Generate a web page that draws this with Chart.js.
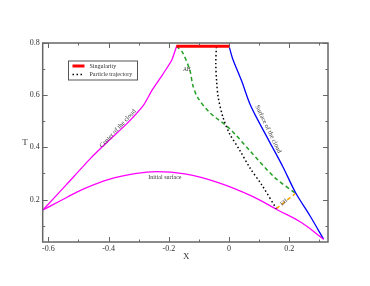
<!DOCTYPE html>
<html>
<head>
<meta charset="utf-8">
<script src="https://cdn.jsdelivr.net/npm/chart.js@4"></script>
<style>
  html, body { margin: 0; padding: 0; background: #fff; }
  #wrap { width: 370px; height: 286px; }
</style>
</head>
<body>
<div id="wrap"><canvas id="myChart" width="370" height="286"></canvas></div>
<script>
// curves (X, T)
const centerX = [-0.618, -0.54, -0.462, -0.40, -0.34, -0.285, -0.255, -0.22, -0.19, -0.174];
const centerT = [0.160, 0.257, 0.355, 0.425, 0.49, 0.56, 0.62, 0.68, 0.735, 0.788];

const initX = [-0.618, -0.539, -0.484, -0.396, -0.318, -0.241, -0.147, -0.036, 0.074, 0.163, 0.24, 0.314];
const initT = [0.160, 0.208, 0.240, 0.278, 0.298, 0.307, 0.298, 0.265, 0.214, 0.159, 0.112, 0.048];

const surfX = [0.0, 0.012, 0.041, 0.069, 0.091, 0.135, 0.179, 0.221, 0.27, 0.314];
const surfT = [0.788, 0.74, 0.657, 0.567, 0.515, 0.42, 0.325, 0.226, 0.135, 0.048];

const ahX = [-0.175, -0.155, -0.13, -0.12, -0.104, -0.064, 0.002, 0.069, 0.152, 0.221];
const ahT = [0.788, 0.765, 0.695, 0.637, 0.591, 0.533, 0.472, 0.387, 0.284, 0.224];

const trajX = [-0.042, -0.044, -0.041, -0.036, -0.02, 0.002, 0.035, 0.07, 0.107, 0.157];
const trajT = [0.785, 0.72, 0.65, 0.592, 0.515, 0.452, 0.39, 0.32, 0.259, 0.165];

const singX = [-0.175, 0.0];
const singT = [0.788, 0.788];

const ehX = [0.157, 0.221];
const ehT = [0.165, 0.224];

// axis ticks
const xMajor = [-0.6, -0.4, -0.2, 0, 0.2];
const xMinor = [-0.5, -0.3, -0.1, 0.1, 0.3];
const yMajor = [0.2, 0.4, 0.6, 0.8];
const yMinor = [0.1, 0.3, 0.5, 0.7];

const toPts = (xs, ys) => xs.map((x, i) => ({x: x, y: ys[i]}));

const serif = '"Liberation Serif", "DejaVu Serif", serif';

// text put on the plot, in data coordinates
const notes = [
    {text: "Center of the cloud", x: -0.369, y: 0.472, rot: -47, size: 6.5},
    {text: "Surface of the cloud", x: 0.13, y: 0.47, rot: 64, size: 6.5},
    {text: "AH", x: -0.14, y: 0.70, rot: 0, size: 5.5},
    {text: "EH", x: 0.182, y: 0.19, rot: -42, size: 5.5},
    {text: "Initial surface", x: -0.213, y: 0.285, rot: 0, size: 6}
];

const frame = {
    id: 'frame',
    afterDatasetsDraw(chart) {
        const c = chart.ctx;
        const a = chart.chartArea;
        const xs = chart.scales.x, ys = chart.scales.y;
        c.save();
        c.strokeStyle = '#666';
        c.lineWidth = 1.5;
        c.strokeRect(a.left, a.top, a.right - a.left, a.bottom - a.top);
        c.lineWidth = 1;
        const tick = (vals, len) => {
            vals.forEach(v => {
                const px = Math.round(xs.getPixelForValue(v)) + 0.5;
                c.beginPath();
                c.moveTo(px, a.bottom); c.lineTo(px, a.bottom - len);
                c.moveTo(px, a.top); c.lineTo(px, a.top + len);
                c.stroke();
            });
        };
        const tickY = (vals, len) => {
            vals.forEach(v => {
                const py = Math.round(ys.getPixelForValue(v)) + 0.5;
                c.beginPath();
                c.moveTo(a.left, py); c.lineTo(a.left + len, py);
                c.moveTo(a.right, py); c.lineTo(a.right - len, py);
                c.stroke();
            });
        };
        tick(xMajor, 5); tick(xMinor, 2.5);
        tickY(yMajor, 5); tickY(yMinor, 2.5);

        // axis titles
        c.fillStyle = '#333';
        c.font = '9px ' + serif;
        c.textAlign = 'center';
        c.textBaseline = 'middle';
        c.fillText('X', (a.left + a.right) / 2 + 1, 257);
        c.fillText('T', 25, (a.top + a.bottom) / 2);

        // notes along the curves
        c.fillStyle = '#3a3a3a';
        notes.forEach(n => {
            c.save();
            c.translate(xs.getPixelForValue(n.x), ys.getPixelForValue(n.y));
            c.rotate(n.rot * Math.PI / 180);
            c.font = n.size + 'px ' + serif;
            c.fillText(n.text, 0, 0);
            c.restore();
        });

        // legend box
        const lx = 68.5, ly = 61, lw = 69, lh = 19;
        c.fillStyle = '#fff';
        c.fillRect(lx, ly, lw, lh);
        c.strokeStyle = '#555';
        c.lineWidth = 1;
        c.strokeRect(lx, ly, lw, lh);
        const items = [chart.data.datasets[0], chart.data.datasets[1]];
        items.forEach((ds, i) => {
            const yy = ly + 5 + i * 8.5;
            c.strokeStyle = ds.borderColor;
            c.lineWidth = ds.borderWidth;
            c.setLineDash(ds.borderDash || []);
            c.beginPath();
            c.moveTo(lx + 4, yy); c.lineTo(lx + 16, yy);
            c.stroke();
            c.setLineDash([]);
            c.fillStyle = '#333';
            c.font = '6px ' + serif;
            c.textAlign = 'left';
            c.fillText(ds.label, lx + 21, yy);
        });
        c.restore();
    }
};

const ctx = document.getElementById('myChart');
const myChart = new Chart(ctx, {
    type: 'scatter',
    data: {
        datasets: [{
            label: "Singularity",
            data: toPts(singX, singT),
            borderColor: "#ff0000",
            borderWidth: 3,
            tension: 0
        }, {
            label: "Particle trajectory",
            data: toPts(trajX, trajT),
            borderColor: "#000000",
            borderWidth: 1.5,
            borderDash: [1.5, 2.5],
            tension: 0.3
        }, {
            label: "Center of the cloud",
            data: toPts(centerX, centerT),
            borderColor: "#ff00ff",
            borderWidth: 1.3,
            tension: 0.2
        }, {
            label: "Initial surface",
            data: toPts(initX, initT),
            borderColor: "#ff00ff",
            borderWidth: 1.3,
            tension: 0.4
        }, {
            label: "Surface of the cloud",
            data: toPts(surfX, surfT),
            borderColor: "#0000ff",
            borderWidth: 1.3,
            tension: 0.3
        }, {
            label: "AH",
            data: toPts(ahX, ahT),
            borderColor: "#22a022",
            borderWidth: 1.5,
            borderDash: [4, 3],
            tension: 0.3
        }, {
            label: "EH",
            data: toPts(ehX, ehT),
            borderColor: "#ffa500",
            borderWidth: 1.5,
            borderDash: [4, 3],
            tension: 0
        }]
    },
    options: {
        responsive: false,
        animation: false,
        showLine: true,
        elements: { point: { radius: 0 } },
        layout: { padding: { top: 43, right: 42, left: 0, bottom: 0 } },
        plugins: {
            legend: { display: false },
            tooltip: { enabled: false }
        },
        scales: {
            x: {
                type: 'linear',
                min: -0.6186,
                max: 0.3285,
                afterBuildTicks: s => { s.ticks = xMajor.map(v => ({value: v})); },
                afterFit: s => { s.height = 44; },
                grid: { display: false, drawTicks: false },
                border: { display: false },
                ticks: {
                    padding: 2,
                    color: '#333',
                    font: { family: serif, size: 8 },
                    callback: v => String(Math.round(v * 10) / 10)
                }
            },
            y: {
                type: 'linear',
                min: 0.0373,
                max: 0.8,
                afterBuildTicks: s => { s.ticks = yMajor.map(v => ({value: v})); },
                afterFit: s => { s.width = 42.7; },
                grid: { display: false, drawTicks: false },
                border: { display: false },
                ticks: {
                    padding: 3,
                    color: '#333',
                    font: { family: serif, size: 8 },
                    callback: v => String(Math.round(v * 10) / 10)
                }
            }
        }
    },
    plugins: [frame]
});
</script>
</body>
</html>
